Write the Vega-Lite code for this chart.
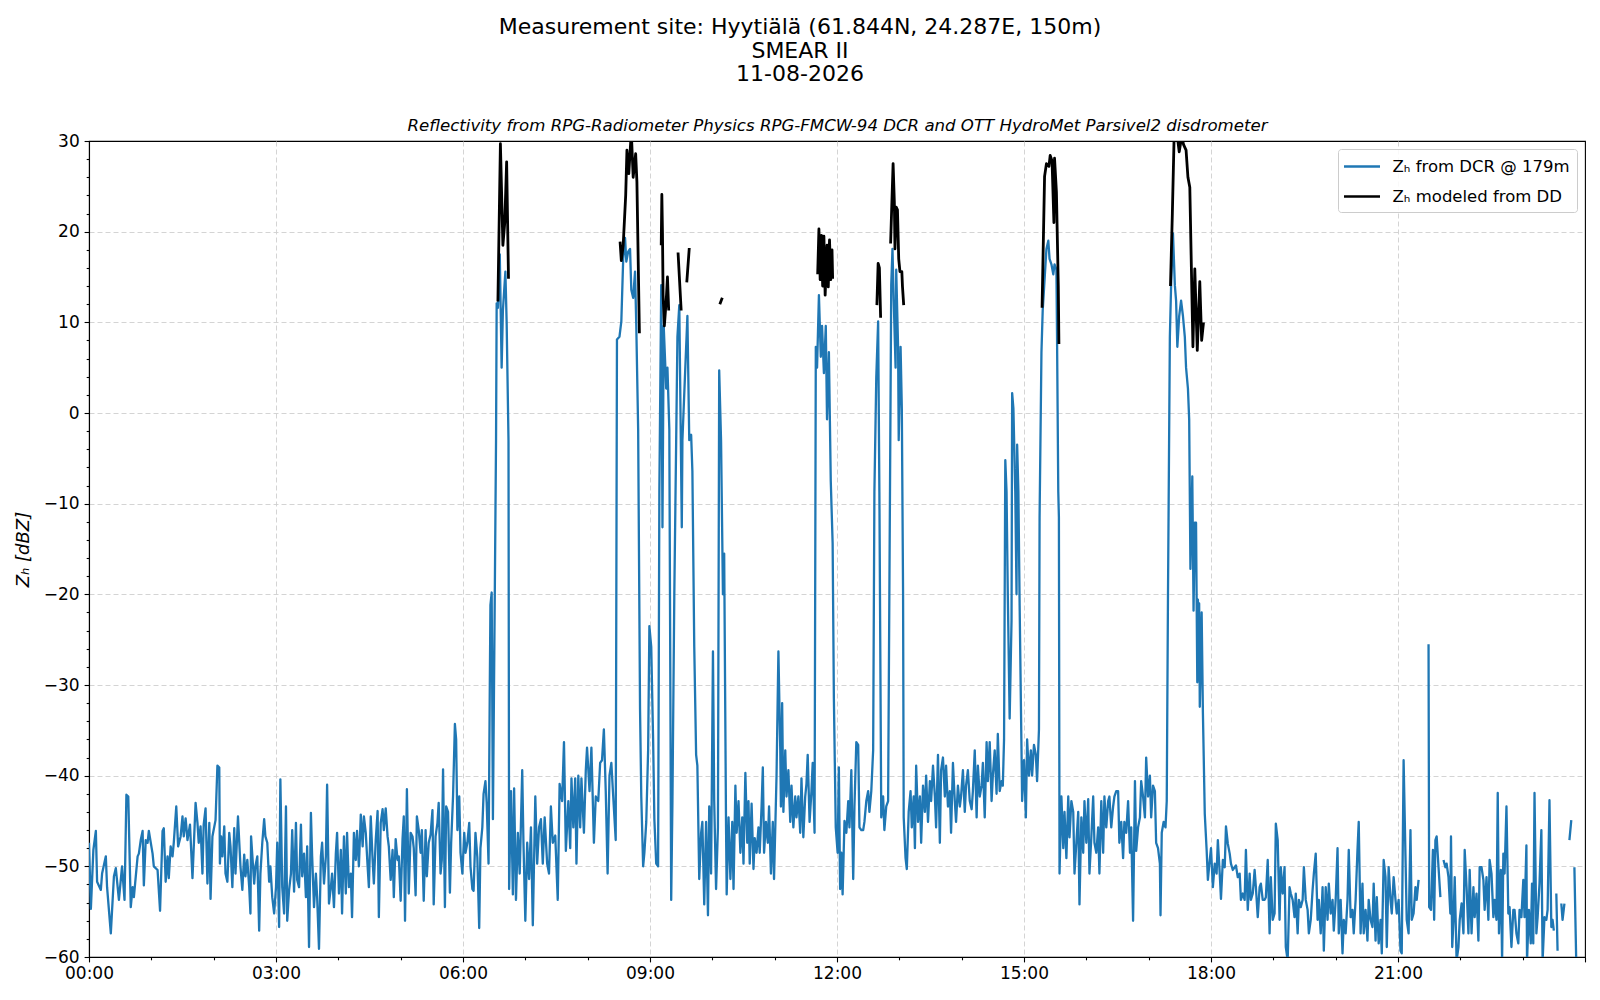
{
"$schema": "https://vega.github.io/schema/vega-lite/v6.json",
"width": 1496,
"height": 816,
"autosize": "none",
"padding": {"left": 89, "top": 141, "right": 15, "bottom": 43},
"background": "white",
"config": {
  "font": "DejaVu Sans",
  "view": {"stroke": "black", "strokeWidth": 1.1},
  "legend": {
    "orient": "top-right", "offset": 8, "title": null,
    "symbolType": "M-2,0H2", "symbolSize": 324, "symbolStrokeWidth": 2.6, "symbolOffset": 6.5,
    "labelFontSize": 16.5, "labelFont": "DejaVu Sans", "labelColor": "black", "labelOffset": 20, "labelLimit": 400,
    "strokeColor": "#cccccc", "fillColor": "rgba(255,255,255,0.85)", "padding": 7, "cornerRadius": 3, "rowPadding": 11
  }
},
"title": {
  "text": ["Measurement site: Hyytiälä (61.844N, 24.287E, 150m)", "SMEAR II", "11-08-2026"],
  "fontSize": 22, "fontWeight": "normal", "lineHeight": 23.3, "anchor": "middle", "dx": -37, "offset": 31, "color": "black", "font": "DejaVu Sans"
},
"datasets": {
"dcr": [
{"t":0.00,"z":-47.4},{"t":0.03,"z":-54.7},{"t":0.07,"z":-48.2},{"t":0.11,"z":-46.1},{"t":0.13,"z":-51.7},{"t":0.19,"z":-52.6},{"t":0.21,"z":-50.8},{"t":0.27,"z":-48.9},{"t":0.29,"z":-52.3},{"t":0.35,"z":-57.4},
{"t":0.40,"z":-51.1},{"t":0.43,"z":-50.2},{"t":0.48,"z":-53.7},{"t":0.53,"z":-50.0},{"t":0.57,"z":-53.7},{"t":0.60,"z":-42.1},{"t":0.63,"z":-42.3},{"t":0.67,"z":-54.5},{"t":0.70,"z":-52.3},{"t":0.72,"z":-53.4},
{"t":0.78,"z":-48.9},{"t":0.80,"z":-48.6},{"t":0.83,"z":-47.1},{"t":0.86,"z":-46.1},{"t":0.88,"z":-52.1},{"t":0.91,"z":-47.1},{"t":0.94,"z":-47.4},{"t":0.96,"z":-46.1},{"t":1.02,"z":-48.6},{"t":1.04,"z":-50.0},
{"t":1.10,"z":-50.4},{"t":1.14,"z":-54.9},{"t":1.18,"z":-46.1},{"t":1.20,"z":-45.8},{"t":1.23,"z":-51.7},{"t":1.26,"z":-48.9},{"t":1.28,"z":-51.3},{"t":1.31,"z":-47.8},{"t":1.34,"z":-48.9},{"t":1.36,"z":-47.4},
{"t":1.40,"z":-43.4},{"t":1.43,"z":-47.8},{"t":1.47,"z":-46.7},{"t":1.50,"z":-44.5},{"t":1.52,"z":-46.7},{"t":1.55,"z":-44.7},{"t":1.58,"z":-47.1},{"t":1.62,"z":-45.4},{"t":1.66,"z":-51.3},{"t":1.71,"z":-43.0},
{"t":1.74,"z":-45.2},{"t":1.76,"z":-47.4},{"t":1.79,"z":-45.6},{"t":1.82,"z":-50.8},{"t":1.84,"z":-45.4},{"t":1.87,"z":-43.6},{"t":1.90,"z":-51.9},{"t":1.93,"z":-45.2},{"t":1.95,"z":-53.6},{"t":1.98,"z":-46.7},
{"t":2.03,"z":-44.9},{"t":2.06,"z":-38.9},{"t":2.09,"z":-39.1},{"t":2.10,"z":-49.7},{"t":2.12,"z":-46.7},{"t":2.14,"z":-48.9},{"t":2.17,"z":-45.6},{"t":2.19,"z":-50.8},{"t":2.22,"z":-51.7},{"t":2.25,"z":-46.3},
{"t":2.27,"z":-47.8},{"t":2.30,"z":-52.3},{"t":2.33,"z":-45.8},{"t":2.35,"z":-50.8},{"t":2.39,"z":-44.5},{"t":2.43,"z":-50.0},{"t":2.46,"z":-52.6},{"t":2.49,"z":-48.7},{"t":2.51,"z":-51.1},{"t":2.54,"z":-49.3},
{"t":2.57,"z":-52.3},{"t":2.59,"z":-55.2},{"t":2.60,"z":-46.7},{"t":2.65,"z":-51.9},{"t":2.67,"z":-50.0},{"t":2.70,"z":-48.9},{"t":2.73,"z":-57.1},{"t":2.75,"z":-50.8},{"t":2.78,"z":-47.4},{"t":2.81,"z":-44.8},
{"t":2.83,"z":-46.7},{"t":2.86,"z":-47.4},{"t":2.89,"z":-51.7},{"t":2.91,"z":-50.0},{"t":2.94,"z":-53.4},{"t":2.97,"z":-55.2},{"t":3.00,"z":-52.3},{"t":3.02,"z":-47.4},{"t":3.05,"z":-56.7},{"t":3.07,"z":-40.4},
{"t":3.10,"z":-52.3},{"t":3.13,"z":-55.2},{"t":3.16,"z":-43.4},{"t":3.18,"z":-56.0},{"t":3.21,"z":-52.6},{"t":3.24,"z":-50.8},{"t":3.26,"z":-46.0},{"t":3.29,"z":-52.8},{"t":3.32,"z":-45.2},{"t":3.34,"z":-51.5},
{"t":3.37,"z":-52.3},{"t":3.40,"z":-45.4},{"t":3.42,"z":-51.1},{"t":3.45,"z":-48.6},{"t":3.48,"z":-53.4},{"t":3.50,"z":-47.8},{"t":3.53,"z":-58.9},{"t":3.56,"z":-44.1},{"t":3.58,"z":-48.9},{"t":3.61,"z":-54.5},
{"t":3.64,"z":-50.8},{"t":3.66,"z":-53.4},{"t":3.69,"z":-59.1},{"t":3.72,"z":-48.9},{"t":3.74,"z":-47.4},{"t":3.77,"z":-51.9},{"t":3.80,"z":-48.9},{"t":3.82,"z":-41.0},{"t":3.85,"z":-54.1},{"t":3.88,"z":-52.3},
{"t":3.90,"z":-50.8},{"t":3.93,"z":-54.5},{"t":3.96,"z":-48.6},{"t":3.98,"z":-46.3},{"t":4.01,"z":-53.0},{"t":4.04,"z":-48.2},{"t":4.06,"z":-55.2},{"t":4.09,"z":-46.7},{"t":4.12,"z":-53.0},{"t":4.14,"z":-46.3},
{"t":4.17,"z":-52.3},{"t":4.20,"z":-50.8},{"t":4.22,"z":-55.6},{"t":4.25,"z":-46.3},{"t":4.28,"z":-49.3},{"t":4.30,"z":-46.1},{"t":4.33,"z":-50.0},{"t":4.36,"z":-44.3},{"t":4.39,"z":-47.8},{"t":4.41,"z":-44.5},
{"t":4.44,"z":-46.3},{"t":4.47,"z":-50.0},{"t":4.49,"z":-52.3},{"t":4.52,"z":-44.5},{"t":4.55,"z":-49.3},{"t":4.57,"z":-51.9},{"t":4.60,"z":-47.1},{"t":4.63,"z":-43.9},{"t":4.65,"z":-55.6},{"t":4.68,"z":-45.2},
{"t":4.71,"z":-43.7},{"t":4.73,"z":-46.0},{"t":4.76,"z":-43.6},{"t":4.79,"z":-46.7},{"t":4.81,"z":-47.8},{"t":4.84,"z":-51.5},{"t":4.87,"z":-48.2},{"t":4.89,"z":-53.4},{"t":4.92,"z":-47.0},{"t":4.95,"z":-49.3},
{"t":4.97,"z":-48.9},{"t":5.00,"z":-53.8},{"t":5.03,"z":-47.0},{"t":5.05,"z":-44.5},{"t":5.07,"z":-56.0},{"t":5.10,"z":-41.5},{"t":5.13,"z":-53.0},{"t":5.16,"z":-46.3},{"t":5.19,"z":-46.7},{"t":5.21,"z":-48.0},
{"t":5.24,"z":-53.2},{"t":5.26,"z":-44.5},{"t":5.29,"z":-46.0},{"t":5.32,"z":-48.5},{"t":5.34,"z":-46.0},{"t":5.37,"z":-53.8},{"t":5.40,"z":-46.0},{"t":5.42,"z":-51.1},{"t":5.45,"z":-47.4},{"t":5.48,"z":-46.5},
{"t":5.51,"z":-43.8},{"t":5.53,"z":-54.2},{"t":5.56,"z":-46.7},{"t":5.59,"z":-45.2},{"t":5.61,"z":-43.0},{"t":5.64,"z":-50.8},{"t":5.66,"z":-49.3},{"t":5.68,"z":-39.3},{"t":5.71,"z":-54.5},{"t":5.73,"z":-43.4},
{"t":5.76,"z":-44.0},{"t":5.79,"z":-52.9},{"t":5.81,"z":-47.4},{"t":5.84,"z":-42.3},{"t":5.87,"z":-34.3},{"t":5.89,"z":-36.0},{"t":5.91,"z":-46.0},{"t":5.94,"z":-42.3},{"t":5.96,"z":-48.5},{"t":5.99,"z":-50.8},
{"t":6.02,"z":-46.3},{"t":6.04,"z":-48.5},{"t":6.07,"z":-47.4},{"t":6.10,"z":-45.2},{"t":6.12,"z":-50.0},{"t":6.15,"z":-52.5},{"t":6.17,"z":-52.7},{"t":6.20,"z":-46.3},{"t":6.23,"z":-49.0},{"t":6.26,"z":-56.8},
{"t":6.28,"z":-48.0},{"t":6.31,"z":-45.7},{"t":6.33,"z":-42.0},{"t":6.36,"z":-40.6},{"t":6.38,"z":-43.0},{"t":6.41,"z":-49.7},{"t":6.43,"z":-30.0},{"t":6.44,"z":-21.2},{"t":6.46,"z":-19.8},{"t":6.48,"z":-44.8},
{"t":6.51,"z":-20.0},{"t":6.53,"z":-3.0},{"t":6.54,"z":12.1},{"t":6.56,"z":11.6},{"t":6.59,"z":17.5},{"t":6.62,"z":5.0},{"t":6.64,"z":11.3},{"t":6.68,"z":15.6},{"t":6.70,"z":10.1},{"t":6.73,"z":-3.0},
{"t":6.74,"z":-52.5},{"t":6.77,"z":-41.7},{"t":6.80,"z":-53.1},{"t":6.82,"z":-41.4},{"t":6.85,"z":-53.7},{"t":6.88,"z":-46.3},{"t":6.91,"z":-50.8},{"t":6.95,"z":-39.4},{"t":6.97,"z":-47.4},{"t":7.00,"z":-56.0},
{"t":7.03,"z":-47.4},{"t":7.06,"z":-51.4},{"t":7.09,"z":-45.7},{"t":7.12,"z":-56.5},{"t":7.16,"z":-42.3},{"t":7.19,"z":-49.7},{"t":7.22,"z":-45.7},{"t":7.25,"z":-44.8},{"t":7.28,"z":-49.7},{"t":7.31,"z":-44.6},
{"t":7.35,"z":-49.7},{"t":7.38,"z":-50.8},{"t":7.41,"z":-43.4},{"t":7.44,"z":-47.4},{"t":7.48,"z":-46.6},{"t":7.52,"z":-53.7},{"t":7.55,"z":-40.9},{"t":7.59,"z":-42.8},{"t":7.62,"z":-36.3},{"t":7.65,"z":-48.3},
{"t":7.69,"z":-42.8},{"t":7.72,"z":-48.0},{"t":7.74,"z":-40.3},{"t":7.77,"z":-45.7},{"t":7.80,"z":-40.3},{"t":7.82,"z":-49.7},{"t":7.85,"z":-40.0},{"t":7.88,"z":-45.7},{"t":7.90,"z":-40.3},{"t":7.94,"z":-46.3},
{"t":7.97,"z":-39.4},{"t":7.99,"z":-36.9},{"t":8.03,"z":-41.7},{"t":8.06,"z":-36.9},{"t":8.10,"z":-47.4},{"t":8.13,"z":-42.3},{"t":8.17,"z":-42.8},{"t":8.20,"z":-38.6},{"t":8.23,"z":-38.3},{"t":8.26,"z":-34.9},
{"t":8.29,"z":-41.7},{"t":8.32,"z":-50.8},{"t":8.35,"z":-40.0},{"t":8.38,"z":-38.6},{"t":8.41,"z":-42.3},{"t":8.45,"z":-47.1},{"t":8.47,"z":8.1},{"t":8.51,"z":8.4},{"t":8.54,"z":10.1},{"t":8.57,"z":17.0},
{"t":8.60,"z":19.3},{"t":8.62,"z":16.7},{"t":8.65,"z":17.8},{"t":8.68,"z":18.1},{"t":8.70,"z":13.6},{"t":8.73,"z":12.7},{"t":8.76,"z":15.6},{"t":8.78,"z":9.6},{"t":8.81,"z":-1.8},{"t":8.84,"z":-32.6},
{"t":8.86,"z":-42.3},{"t":8.89,"z":-50.0},{"t":8.91,"z":-48.5},{"t":8.94,"z":-45.1},{"t":8.97,"z":-37.2},{"t":8.99,"z":-23.5},{"t":9.02,"z":-25.8},{"t":9.05,"z":-36.0},{"t":9.07,"z":-44.8},{"t":9.10,"z":-49.7},
{"t":9.13,"z":-50.0},{"t":9.15,"z":-8.7},{"t":9.18,"z":14.1},{"t":9.20,"z":-12.6},{"t":9.22,"z":9.6},{"t":9.26,"z":2.7},{"t":9.28,"z":5.0},{"t":9.31,"z":-1.8},{"t":9.34,"z":-53.7},{"t":9.36,"z":-42.8},
{"t":9.39,"z":-20.0},{"t":9.42,"z":-3.0},{"t":9.44,"z":8.4},{"t":9.47,"z":11.9},{"t":9.51,"z":-12.6},{"t":9.52,"z":-3.0},{"t":9.56,"z":3.9},{"t":9.60,"z":10.7},{"t":9.63,"z":-3.0},{"t":9.66,"z":-2.4},
{"t":9.68,"z":-6.4},{"t":9.71,"z":-25.8},{"t":9.74,"z":-37.7},{"t":9.76,"z":-38.9},{"t":9.79,"z":-51.4},{"t":9.82,"z":-46.3},{"t":9.84,"z":-45.1},{"t":9.87,"z":-54.2},{"t":9.90,"z":-45.1},{"t":9.93,"z":-55.4},
{"t":9.95,"z":-43.4},{"t":9.98,"z":-50.8},{"t":10.01,"z":-26.3},{"t":10.03,"z":-42.8},{"t":10.06,"z":-52.5},{"t":10.09,"z":-45.7},{"t":10.11,"z":4.7},{"t":10.14,"z":-3.0},{"t":10.17,"z":-20.0},{"t":10.19,"z":-15.5},
{"t":10.22,"z":-45.7},{"t":10.23,"z":-53.1},{"t":10.26,"z":-44.6},{"t":10.29,"z":-51.4},{"t":10.32,"z":-45.1},{"t":10.34,"z":-52.5},{"t":10.37,"z":-41.1},{"t":10.39,"z":-46.3},{"t":10.42,"z":-42.8},{"t":10.45,"z":-48.5},
{"t":10.48,"z":-44.6},{"t":10.50,"z":-49.7},{"t":10.53,"z":-39.7},{"t":10.56,"z":-47.4},{"t":10.58,"z":-42.8},{"t":10.60,"z":-49.7},{"t":10.63,"z":-43.1},{"t":10.66,"z":-50.3},{"t":10.68,"z":-46.9},{"t":10.71,"z":-48.5},
{"t":10.74,"z":-45.7},{"t":10.76,"z":-48.5},{"t":10.79,"z":-43.4},{"t":10.81,"z":-39.1},{"t":10.83,"z":-48.5},{"t":10.86,"z":-45.1},{"t":10.89,"z":-47.4},{"t":10.91,"z":-43.4},{"t":10.94,"z":-50.8},{"t":10.97,"z":-45.1},
{"t":10.99,"z":-51.4},{"t":11.03,"z":-40.0},{"t":11.06,"z":-26.3},{"t":11.09,"z":-37.2},{"t":11.10,"z":-43.4},{"t":11.12,"z":-32.0},{"t":11.14,"z":-44.0},{"t":11.17,"z":-37.2},{"t":11.19,"z":-42.3},{"t":11.22,"z":-39.4},
{"t":11.25,"z":-45.1},{"t":11.27,"z":-41.1},{"t":11.30,"z":-45.7},{"t":11.33,"z":-42.3},{"t":11.35,"z":-44.6},{"t":11.38,"z":-42.3},{"t":11.41,"z":-46.3},{"t":11.43,"z":-40.3},{"t":11.46,"z":-46.8},{"t":11.49,"z":-42.3},
{"t":11.51,"z":-40.9},{"t":11.53,"z":-37.7},{"t":11.56,"z":-45.1},{"t":11.59,"z":-41.7},{"t":11.61,"z":-38.6},{"t":11.64,"z":-46.3},{"t":11.66,"z":7.3},{"t":11.68,"z":5.0},{"t":11.71,"z":13.0},{"t":11.74,"z":6.2},
{"t":11.76,"z":9.6},{"t":11.79,"z":4.4},{"t":11.82,"z":9.6},{"t":11.84,"z":-0.7},{"t":11.87,"z":6.7},{"t":11.90,"z":-7.5},{"t":11.93,"z":-14.4},{"t":11.95,"z":-31.5},{"t":11.98,"z":-45.7},{"t":12.01,"z":-48.5},
{"t":12.03,"z":-39.1},{"t":12.05,"z":-52.5},{"t":12.07,"z":-48.5},{"t":12.09,"z":-53.1},{"t":12.12,"z":-45.0},{"t":12.15,"z":-46.3},{"t":12.18,"z":-42.8},{"t":12.20,"z":-45.7},{"t":12.23,"z":-39.4},{"t":12.26,"z":-51.4},
{"t":12.28,"z":-43.4},{"t":12.31,"z":-36.3},{"t":12.34,"z":-36.6},{"t":12.36,"z":-45.7},{"t":12.39,"z":-46.0},{"t":12.42,"z":-46.0},{"t":12.44,"z":-45.1},{"t":12.47,"z":-42.8},{"t":12.50,"z":-41.7},{"t":12.52,"z":-44.0},
{"t":12.55,"z":-41.7},{"t":12.58,"z":-37.2},{"t":12.60,"z":-8.7},{"t":12.63,"z":3.9},{"t":12.66,"z":10.1},{"t":12.68,"z":-8.7},{"t":12.71,"z":-44.6},{"t":12.74,"z":-42.3},{"t":12.76,"z":-46.0},{"t":12.79,"z":-43.4},
{"t":12.82,"z":-42.8},{"t":12.84,"z":-20.0},{"t":12.87,"z":14.1},{"t":12.89,"z":18.1},{"t":12.91,"z":12.4},{"t":12.94,"z":5.0},{"t":12.95,"z":15.8},{"t":12.98,"z":7.3},{"t":12.99,"z":-3.0},{"t":13.02,"z":7.3},
{"t":13.04,"z":0.5},{"t":13.06,"z":-20.0},{"t":13.07,"z":-44.6},{"t":13.10,"z":-49.1},{"t":13.12,"z":-50.3},{"t":13.15,"z":-44.0},{"t":13.18,"z":-41.7},{"t":13.20,"z":-45.7},{"t":13.23,"z":-42.3},{"t":13.25,"z":-48.0},
{"t":13.27,"z":-38.9},{"t":13.30,"z":-45.1},{"t":13.33,"z":-42.3},{"t":13.35,"z":-47.4},{"t":13.38,"z":-41.1},{"t":13.41,"z":-44.0},{"t":13.43,"z":-40.0},{"t":13.46,"z":-45.1},{"t":13.49,"z":-40.6},{"t":13.51,"z":-42.8},
{"t":13.54,"z":-38.9},{"t":13.57,"z":-42.3},{"t":13.59,"z":-45.7},{"t":13.62,"z":-37.7},{"t":13.65,"z":-47.4},{"t":13.67,"z":-39.4},{"t":13.70,"z":-38.0},{"t":13.73,"z":-42.3},{"t":13.75,"z":-38.9},{"t":13.78,"z":-43.4},
{"t":13.81,"z":-41.7},{"t":13.83,"z":-46.3},{"t":13.86,"z":-38.6},{"t":13.89,"z":-42.8},{"t":13.91,"z":-45.1},{"t":13.94,"z":-41.1},{"t":13.97,"z":-43.4},{"t":13.99,"z":-42.3},{"t":14.02,"z":-39.4},{"t":14.05,"z":-44.0},
{"t":14.07,"z":-41.1},{"t":14.10,"z":-39.4},{"t":14.13,"z":-42.8},{"t":14.16,"z":-43.7},{"t":14.18,"z":-41.7},{"t":14.21,"z":-37.2},{"t":14.24,"z":-44.6},{"t":14.26,"z":-38.9},{"t":14.29,"z":-42.3},{"t":14.32,"z":-41.1},
{"t":14.34,"z":-38.6},{"t":14.37,"z":-44.6},{"t":14.40,"z":-36.3},{"t":14.42,"z":-40.6},{"t":14.45,"z":-36.3},{"t":14.48,"z":-42.8},{"t":14.50,"z":-40.0},{"t":14.53,"z":-37.2},{"t":14.56,"z":-42.0},{"t":14.58,"z":-35.4},
{"t":14.61,"z":-41.7},{"t":14.64,"z":-40.6},{"t":14.66,"z":-41.1},{"t":14.68,"z":-36.0},{"t":14.70,"z":-5.2},{"t":14.72,"z":-8.7},{"t":14.74,"z":-20.0},{"t":14.77,"z":-33.7},{"t":14.80,"z":-22.9},{"t":14.81,"z":2.2},
{"t":14.83,"z":0.5},{"t":14.86,"z":-8.7},{"t":14.88,"z":-20.0},{"t":14.89,"z":-3.5},{"t":14.91,"z":-8.7},{"t":14.93,"z":-21.2},{"t":14.96,"z":-37.2},{"t":14.97,"z":-42.8},{"t":15.00,"z":-38.3},{"t":15.03,"z":-44.6},
{"t":15.05,"z":-36.0},{"t":15.08,"z":-40.0},{"t":15.11,"z":-37.2},{"t":15.13,"z":-40.0},{"t":15.16,"z":-36.6},{"t":15.19,"z":-37.7},{"t":15.21,"z":-40.6},{"t":15.24,"z":-34.9},{"t":15.25,"z":-11.5},{"t":15.28,"z":6.7},
{"t":15.30,"z":11.3},{"t":15.33,"z":14.7},{"t":15.36,"z":18.1},{"t":15.39,"z":19.0},{"t":15.41,"z":17.0},{"t":15.44,"z":16.4},{"t":15.47,"z":15.3},{"t":15.49,"z":16.4},{"t":15.52,"z":15.8},{"t":15.53,"z":8.4},
{"t":15.55,"z":-8.7},{"t":15.56,"z":-11.5},{"t":15.57,"z":-50.8},{"t":15.60,"z":-42.3},{"t":15.63,"z":-48.0},{"t":15.65,"z":-44.0},{"t":15.68,"z":-49.1},{"t":15.71,"z":-42.3},{"t":15.73,"z":-46.8},{"t":15.76,"z":-42.8},
{"t":15.79,"z":-44.0},{"t":15.81,"z":-50.8},{"t":15.84,"z":-47.4},{"t":15.87,"z":-44.0},{"t":15.89,"z":-54.2},{"t":15.92,"z":-44.6},{"t":15.95,"z":-48.5},{"t":15.97,"z":-42.8},{"t":16.00,"z":-47.4},{"t":16.03,"z":-42.6},
{"t":16.05,"z":-50.8},{"t":16.08,"z":-46.8},{"t":16.11,"z":-42.3},{"t":16.13,"z":-47.4},{"t":16.16,"z":-48.5},{"t":16.19,"z":-45.7},{"t":16.21,"z":-50.8},{"t":16.24,"z":-42.8},{"t":16.27,"z":-48.5},{"t":16.29,"z":-42.3},
{"t":16.32,"z":-45.7},{"t":16.35,"z":-42.8},{"t":16.37,"z":-42.3},{"t":16.40,"z":-45.7},{"t":16.43,"z":-43.4},{"t":16.45,"z":-42.3},{"t":16.48,"z":-41.7},{"t":16.51,"z":-41.7},{"t":16.53,"z":-47.4},{"t":16.56,"z":-45.1},
{"t":16.59,"z":-49.1},{"t":16.61,"z":-45.1},{"t":16.64,"z":-46.3},{"t":16.67,"z":-42.8},{"t":16.70,"z":-48.5},{"t":16.72,"z":-45.7},{"t":16.75,"z":-56.0},{"t":16.78,"z":-40.6},{"t":16.80,"z":-48.3},{"t":16.83,"z":-45.7},
{"t":16.86,"z":-44.6},{"t":16.88,"z":-40.6},{"t":16.91,"z":-42.3},{"t":16.94,"z":-44.6},{"t":16.96,"z":-38.0},{"t":16.99,"z":-42.3},{"t":17.02,"z":-40.0},{"t":17.04,"z":-44.6},{"t":17.07,"z":-41.1},{"t":17.10,"z":-41.7},
{"t":17.12,"z":-47.4},{"t":17.15,"z":-48.0},{"t":17.18,"z":-49.7},{"t":17.19,"z":-55.4},{"t":17.21,"z":-46.3},{"t":17.24,"z":-45.1},{"t":17.27,"z":-45.7},{"t":17.29,"z":-42.8},{"t":17.31,"z":-20.0},{"t":17.34,"z":8.4},
{"t":17.36,"z":14.1},{"t":17.39,"z":19.8},{"t":17.42,"z":14.1},{"t":17.44,"z":12.4},{"t":17.46,"z":7.3},{"t":17.49,"z":10.7},{"t":17.52,"z":12.4},{"t":17.55,"z":10.7},{"t":17.58,"z":8.4},{"t":17.60,"z":5.0},
{"t":17.63,"z":2.7},{"t":17.65,"z":-0.7},{"t":17.67,"z":-17.2},{"t":17.70,"z":-7.0},{"t":17.72,"z":-21.8},{"t":17.74,"z":-12.1},{"t":17.76,"z":-12.1},{"t":17.78,"z":-29.7},{"t":17.79,"z":-20.6},{"t":17.80,"z":-29.4},
{"t":17.81,"z":-21.0},{"t":17.82,"z":-32.4},{"t":17.85,"z":-22.0},{"t":17.87,"z":-33.0},{"t":17.90,"z":-44.2},{"t":17.93,"z":-48.2},{"t":17.95,"z":-51.5},{"t":17.97,"z":-50.0},{"t":18.00,"z":-48.0},{"t":18.03,"z":-52.3},
{"t":18.06,"z":-49.7},{"t":18.09,"z":-50.8},{"t":18.11,"z":-47.1},{"t":18.14,"z":-50.8},{"t":18.16,"z":-53.6},{"t":18.19,"z":-49.3},{"t":18.22,"z":-50.1},{"t":18.24,"z":-45.6},{"t":18.27,"z":-47.5},{"t":18.30,"z":-48.6},
{"t":18.32,"z":-49.7},{"t":18.35,"z":-50.4},{"t":18.38,"z":-50.1},{"t":18.40,"z":-49.9},{"t":18.43,"z":-51.2},{"t":18.46,"z":-50.8},{"t":18.48,"z":-53.7},{"t":18.51,"z":-53.0},{"t":18.54,"z":-53.7},{"t":18.56,"z":-48.2},
{"t":18.59,"z":-54.8},{"t":18.62,"z":-50.8},{"t":18.64,"z":-53.7},{"t":18.67,"z":-53.0},{"t":18.70,"z":-50.4},{"t":18.72,"z":-52.3},{"t":18.75,"z":-55.6},{"t":18.78,"z":-52.3},{"t":18.80,"z":-51.9},{"t":18.83,"z":-53.7},
{"t":18.86,"z":-53.7},{"t":18.88,"z":-53.4},{"t":18.91,"z":-49.3},{"t":18.94,"z":-57.4},{"t":18.96,"z":-51.2},{"t":18.99,"z":-55.9},{"t":19.02,"z":-55.2},{"t":19.04,"z":-45.3},{"t":19.07,"z":-47.1},{"t":19.10,"z":-55.9},
{"t":19.12,"z":-50.1},{"t":19.15,"z":-53.0},{"t":19.18,"z":-50.1},{"t":19.20,"z":-58.9},{"t":19.23,"z":-60.4},{"t":19.26,"z":-52.3},{"t":19.28,"z":-53.0},{"t":19.31,"z":-53.7},{"t":19.34,"z":-55.6},{"t":19.36,"z":-53.0},
{"t":19.39,"z":-57.4},{"t":19.41,"z":-53.7},{"t":19.44,"z":-54.5},{"t":19.47,"z":-53.7},{"t":19.49,"z":-50.1},{"t":19.52,"z":-53.7},{"t":19.55,"z":-54.8},{"t":19.57,"z":-57.4},{"t":19.60,"z":-55.9},{"t":19.63,"z":-52.6},
{"t":19.65,"z":-50.8},{"t":19.68,"z":-48.6},{"t":19.71,"z":-55.9},{"t":19.73,"z":-53.7},{"t":19.76,"z":-57.4},{"t":19.79,"z":-52.3},{"t":19.81,"z":-59.3},{"t":19.84,"z":-52.3},{"t":19.87,"z":-55.9},{"t":19.89,"z":-51.9},
{"t":19.92,"z":-55.2},{"t":19.95,"z":-53.7},{"t":19.97,"z":-57.1},{"t":20.00,"z":-53.7},{"t":20.03,"z":-48.0},{"t":20.05,"z":-57.4},{"t":20.08,"z":-53.7},{"t":20.11,"z":-59.6},{"t":20.13,"z":-55.9},{"t":20.16,"z":-57.4},
{"t":20.19,"z":-53.7},{"t":20.21,"z":-48.2},{"t":20.24,"z":-55.6},{"t":20.27,"z":-54.8},{"t":20.29,"z":-57.4},{"t":20.32,"z":-53.7},{"t":20.35,"z":-48.2},{"t":20.37,"z":-45.1},{"t":20.40,"z":-57.4},{"t":20.43,"z":-51.9},
{"t":20.45,"z":-57.4},{"t":20.48,"z":-54.8},{"t":20.51,"z":-58.2},{"t":20.53,"z":-53.7},{"t":20.56,"z":-55.9},{"t":20.59,"z":-56.7},{"t":20.61,"z":-51.9},{"t":20.64,"z":-58.2},{"t":20.66,"z":-53.4},{"t":20.69,"z":-58.5},
{"t":20.72,"z":-55.9},{"t":20.74,"z":-59.6},{"t":20.77,"z":-49.3},{"t":20.80,"z":-51.2},{"t":20.82,"z":-58.9},{"t":20.85,"z":-50.1},{"t":20.88,"z":-53.7},{"t":20.90,"z":-55.2},{"t":20.93,"z":-51.2},{"t":20.96,"z":-53.7},
{"t":20.98,"z":-55.2},{"t":21.01,"z":-53.7},{"t":21.04,"z":-59.3},{"t":21.06,"z":-59.6},{"t":21.09,"z":-38.3},{"t":21.12,"z":-48.9},{"t":21.14,"z":-55.9},{"t":21.17,"z":-57.4},{"t":21.20,"z":-46.0},{"t":21.22,"z":-55.9},
{"t":21.25,"z":-55.2},{"t":21.28,"z":-52.3},{"t":21.30,"z":-53.7},{"t":21.33,"z":-51.5},{"t":21.40,"z":null},{"t":21.49,"z":-25.5},{"t":21.50,"z":-54.5},{"t":21.53,"z":-54.8},{"t":21.56,"z":-48.2},{"t":21.58,"z":-55.9},
{"t":21.60,"z":-47.1},{"t":21.62,"z":-46.7},{"t":21.65,"z":-50.1},{"t":21.68,"z":-53.4},{"t":21.70,"z":null},{"t":21.73,"z":-49.3},{"t":21.76,"z":-50.1},{"t":21.78,"z":-49.7},{"t":21.81,"z":-51.2},{"t":21.84,"z":-55.2},
{"t":21.85,"z":-46.7},{"t":21.87,"z":-58.9},{"t":21.89,"z":-55.9},{"t":21.91,"z":-51.2},{"t":21.94,"z":-60.4},{"t":21.97,"z":-58.9},{"t":21.99,"z":-55.9},{"t":22.02,"z":-54.1},{"t":22.05,"z":-57.4},{"t":22.07,"z":-48.2},
{"t":22.10,"z":-52.3},{"t":22.13,"z":-57.4},{"t":22.15,"z":-50.4},{"t":22.18,"z":-57.4},{"t":22.21,"z":-52.3},{"t":22.23,"z":-55.6},{"t":22.26,"z":-53.0},{"t":22.29,"z":-58.2},{"t":22.31,"z":-50.1},{"t":22.34,"z":-50.1},
{"t":22.37,"z":-51.5},{"t":22.39,"z":-54.8},{"t":22.42,"z":-51.2},{"t":22.45,"z":-55.9},{"t":22.47,"z":-49.3},{"t":22.50,"z":-50.8},{"t":22.53,"z":-55.6},{"t":22.55,"z":-53.7},{"t":22.58,"z":-55.9},{"t":22.60,"z":-41.9},
{"t":22.62,"z":-57.4},{"t":22.65,"z":-50.4},{"t":22.67,"z":-60.4},{"t":22.69,"z":-48.6},{"t":22.71,"z":-50.8},{"t":22.74,"z":-43.4},{"t":22.77,"z":-55.2},{"t":22.79,"z":-54.5},{"t":22.82,"z":-58.9},{"t":22.85,"z":-54.8},
{"t":22.87,"z":-54.8},{"t":22.90,"z":-57.4},{"t":22.93,"z":-58.5},{"t":22.95,"z":-54.8},{"t":22.98,"z":-55.6},{"t":23.01,"z":-51.5},{"t":23.03,"z":-55.6},{"t":23.06,"z":-47.7},{"t":23.07,"z":-60.4},{"t":23.10,"z":-54.8},
{"t":23.13,"z":-58.5},{"t":23.15,"z":-51.9},{"t":23.17,"z":-58.5},{"t":23.19,"z":-41.9},{"t":23.22,"z":-57.4},{"t":23.24,"z":-55.6},{"t":23.27,"z":-51.9},{"t":23.30,"z":-46.0},{"t":23.32,"z":-60.4},{"t":23.35,"z":-55.6},
{"t":23.38,"z":-55.9},{"t":23.40,"z":-54.8},{"t":23.43,"z":-42.7},{"t":23.46,"z":-56.7},{"t":23.48,"z":-55.9},{"t":23.50,"z":-57.1},{"t":23.52,"z":null},{"t":23.54,"z":-53.0},{"t":23.56,"z":-59.3},{"t":23.58,"z":null},
{"t":23.62,"z":-54.1},{"t":23.64,"z":-55.9},{"t":23.67,"z":-54.1},{"t":23.70,"z":null},{"t":23.75,"z":-47.1},{"t":23.78,"z":-44.9},{"t":23.80,"z":null},{"t":23.83,"z":-50.1},{"t":23.86,"z":-60.7}
],
"dd": [
{"t":6.56,"z":12.3},{"t":6.60,"z":29.7},{"t":6.64,"z":18.5},{"t":6.67,"z":21.0},{"t":6.70,"z":27.7},{"t":6.73,"z":14.8},{"t":6.80,"z":null},
{"t":8.52,"z":18.9},{"t":8.54,"z":16.8},{"t":8.57,"z":18.5},{"t":8.61,"z":24.0},{"t":8.63,"z":29.0},{"t":8.66,"z":26.4},{"t":8.70,"z":31.0},{"t":8.73,"z":26.0},{"t":8.77,"z":28.6},{"t":8.79,"z":25.5},{"t":8.83,"z":8.8},{"t":9.00,"z":null},
{"t":9.18,"z":18.5},{"t":9.19,"z":24.1},{"t":9.20,"z":20.0},{"t":9.21,"z":13.0},{"t":9.23,"z":9.6},{"t":9.26,"z":12.4},{"t":9.28,"z":15.0},{"t":9.30,"z":11.3},{"t":9.40,"z":null},
{"t":9.45,"z":17.7},{"t":9.50,"z":11.3},{"t":9.55,"z":null},
{"t":9.59,"z":14.4},{"t":9.63,"z":18.2},{"t":9.90,"z":null},
{"t":10.12,"z":12.0},{"t":10.16,"z":12.7},{"t":11.00,"z":null},
{"t":11.69,"z":15.3},{"t":11.71,"z":20.3},{"t":11.73,"z":14.7},{"t":11.75,"z":19.6},{"t":11.77,"z":14.0},{"t":11.79,"z":19.5},{"t":11.81,"z":13.0},{"t":11.84,"z":18.5},{"t":11.86,"z":13.9},{"t":11.88,"z":19.1},{"t":11.90,"z":14.7},{"t":11.92,"z":18.0},{"t":11.93,"z":14.8},{"t":12.30,"z":null},
{"t":12.64,"z":11.9},{"t":12.66,"z":16.5},{"t":12.68,"z":16.0},{"t":12.70,"z":10.5},{"t":12.80,"z":null},
{"t":12.86,"z":18.7},{"t":12.90,"z":27.5},{"t":12.92,"z":23.2},{"t":12.93,"z":18.1},{"t":12.95,"z":22.7},{"t":12.97,"z":22.4},{"t":12.99,"z":17.0},{"t":13.01,"z":15.6},{"t":13.04,"z":15.6},{"t":13.05,"z":14.0},{"t":13.07,"z":11.9},{"t":14.00,"z":null},
{"t":15.29,"z":11.6},{"t":15.33,"z":26.1},{"t":15.36,"z":27.5},{"t":15.40,"z":27.2},{"t":15.42,"z":28.4},{"t":15.45,"z":27.8},{"t":15.48,"z":21.0},{"t":15.49,"z":28.1},{"t":15.52,"z":24.4},{"t":15.55,"z":14.1},{"t":15.56,"z":7.6},{"t":16.50,"z":null},
{"t":17.35,"z":14.0},{"t":17.38,"z":22.0},{"t":17.41,"z":31.0},{"t":17.46,"z":30.5},{"t":17.49,"z":28.8},{"t":17.53,"z":30.5},{"t":17.56,"z":29.6},{"t":17.60,"z":29.0},{"t":17.63,"z":26.0},{"t":17.66,"z":24.9},{"t":17.71,"z":7.3},{"t":17.74,"z":15.9},{"t":17.78,"z":6.9},{"t":17.82,"z":14.5},{"t":17.85,"z":8.0},{"t":17.88,"z":10.0}
]
},
"layer": [
{
  "data": {"name": "dcr"},
  "mark": {"type": "line", "strokeWidth": 2.3, "clip": true, "strokeJoin": "round", "invalid": "break-paths-show-domains"},
  "encoding": {
    "x": {"field": "t", "type": "quantitative",
      "scale": {"domain": [0, 24], "nice": false, "zero": false},
      "axis": {
        "orient": "bottom", "title": null, "tickCount": 200,
        "values": [0,1,2,3,4,5,6,7,8,9,10,11,12,13,14,15,16,17,18,19,20,21,22,23,24],
        "labelExpr": "datum.value % 3 == 0 && datum.value < 24 ? (datum.value < 10 ? '0' : '') + datum.value + ':00' : ''",
        "labelFontSize": 17, "labelColor": "black", "labelPadding": 4, "labelFlush": false, "labelOverlap": false, "labelBound": false,
        "tickColor": "black", "tickWidth": 1.1,
        "tickSize": {"condition": {"test": "datum.value % 3 == 0", "value": 4.9}, "value": 2.8},
        "domainColor": "black", "domainWidth": 1.1,
        "grid": true, "gridColor": "#cfcfcf", "gridDash": [5, 3], "gridWidth": 0.9,
        "gridOpacity": {"condition": {"test": "datum.value % 3 == 0 && datum.value > 0 && datum.value < 24", "value": 1}, "value": 0}
      }},
    "y": {"field": "z", "type": "quantitative",
      "scale": {"domain": [-60, 30], "nice": false, "zero": false},
      "axis": {
        "title": "Zₕ [dBZ]", "titleFontSize": 18, "titleFontWeight": "normal", "titleFontStyle": "italic", "titleColor": "black", "titlePadding": 11,
        "tickCount": 200,
        "values": [-60,-58,-56,-54,-52,-50,-48,-46,-44,-42,-40,-38,-36,-34,-32,-30,-28,-26,-24,-22,-20,-18,-16,-14,-12,-10,-8,-6,-4,-2,0,2,4,6,8,10,12,14,16,18,20,22,24,26,28,30],
        "labelExpr": "datum.value % 10 == 0 ? replace(format(datum.value, 'd'), '-', '−') : ''",
        "labelFontSize": 17, "labelColor": "black", "labelPadding": 4.9, "labelOverlap": false, "labelBound": false, "labelFlush": false,
        "tickColor": "black", "tickWidth": 1.1,
        "tickSize": {"condition": {"test": "datum.value % 10 == 0", "value": 4.9}, "value": 2.8},
        "domainColor": "black", "domainWidth": 1.1,
        "grid": true, "gridColor": "#cfcfcf", "gridDash": [5, 3], "gridWidth": 0.9,
        "gridOpacity": {"condition": {"test": "datum.value % 10 == 0 && datum.value > -60 && datum.value < 30", "value": 1}, "value": 0}
      }},
    "color": {"datum": "Zₕ from DCR @ 179m",
      "scale": {"domain": ["Zₕ from DCR @ 179m", "Zₕ modeled from DD"], "range": ["#1f77b4", "black"]}}
  }
},
{
  "data": {"name": "dd"},
  "mark": {"type": "line", "strokeWidth": 2.8, "clip": true, "strokeJoin": "round", "invalid": "break-paths-show-domains"},
  "encoding": {
    "x": {"field": "t", "type": "quantitative",
      "scale": {"domain": [0, 24], "nice": false, "zero": false},
      "axis": {
        "orient": "top", "title": "Reflectivity from RPG-Radiometer Physics RPG-FMCW-94 DCR and OTT HydroMet Parsivel2 disdrometer",
        "titleFontSize": 16.6, "titleFontStyle": "italic", "titleFontWeight": "normal", "titleColor": "black", "titlePadding": 8,
        "labels": false, "ticks": false, "domain": false, "grid": false
      }},
    "y": {"field": "z", "type": "quantitative", "scale": {"domain": [-60, 30], "nice": false, "zero": false}},
    "color": {"datum": "Zₕ modeled from DD"}
  }
}
],
"resolve": {"axis": {"x": "independent"}}
}
